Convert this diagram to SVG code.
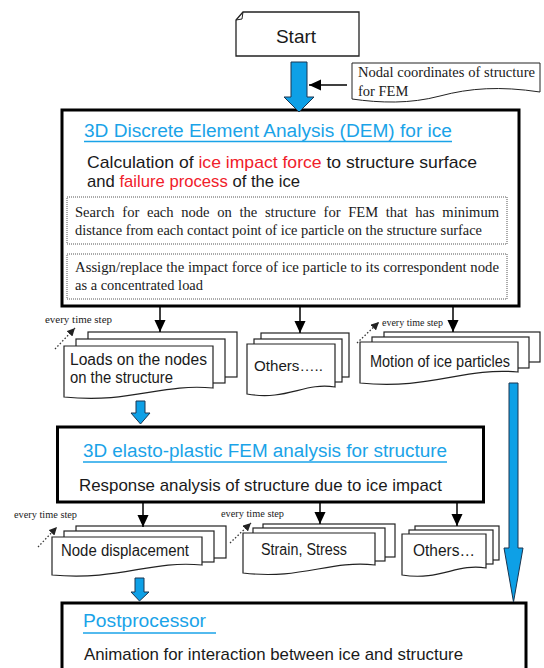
<svg xmlns="http://www.w3.org/2000/svg" width="544" height="668" viewBox="0 0 544 668">
<style>
.sans{font-family:"Liberation Sans",Arial,sans-serif;fill:#1a1a1a}
.serif{font-family:"Liberation Serif","Times New Roman",serif;fill:#1a1a1a}
.blue{fill:#1aa3e8}
.red{fill:#f0202a}
.ul{stroke:#1aa3e8;stroke-width:1.5}
.big{fill:#fff;stroke:#000;stroke-width:3}
.sheet{fill:#fff;stroke:#222;stroke-width:1.2}
.dot{fill:none;stroke:#555;stroke-width:1;stroke-dasharray:1 1}
.conn{stroke:#000;stroke-width:1.5;fill:none}
.tstep{stroke:#333;stroke-width:1.3;stroke-dasharray:1.5 2;fill:none}
.barrow{fill:#0ea0e6;stroke:#1a3550;stroke-width:1}
</style>
<defs>
<marker id="ah" markerUnits="userSpaceOnUse" markerWidth="12" markerHeight="13" viewBox="0 0 13 12" refX="13" refY="6" orient="auto"><path d="M0,0 L13,6 L0,12 Z" fill="#000"/></marker>
<marker id="sh" markerUnits="userSpaceOnUse" markerWidth="8" markerHeight="8" viewBox="0 0 8 8" refX="8" refY="4" orient="auto"><path d="M0,0 L8,4 L0,8 Z" fill="#222"/></marker>
</defs>

<g id="start">
<path d="M243,12 H359 V56 H236 V20 Z" fill="#fff" stroke="#222" stroke-width="1.3"/>
<path d="M236,20 L242,19 L243,12" fill="none" stroke="#222" stroke-width="1"/>
<text class="sans" x="296" y="43" font-size="19" text-anchor="middle">Start</text>
</g>

<g id="note-nodal">
<path d="M352,63 H540 V92 C500,86 470,88 440,96 C410,104 380,103 352,99 Z" fill="#fff" stroke="#222" stroke-width="1"/>
<text class="serif" x="358" y="77" font-size="14.5" textLength="177" lengthAdjust="spacingAndGlyphs">Nodal coordinates of structure</text>
<text class="serif" x="358" y="96" font-size="14.5">for FEM</text>
</g>

<g id="dem">
<rect class="big" x="62" y="110" width="457" height="196"/>
<text class="sans blue" x="84" y="137" font-size="18" textLength="368" lengthAdjust="spacingAndGlyphs">3D Discrete Element Analysis (DEM) for ice</text>
<line class="ul" x1="84" y1="141.5" x2="452" y2="141.5"/>
<text class="sans" x="87" y="168" font-size="17" textLength="390" lengthAdjust="spacingAndGlyphs">Calculation of <tspan class="red">ice impact force</tspan> to structure surface</text>
<text class="sans" x="87" y="187" font-size="17" textLength="213" lengthAdjust="spacingAndGlyphs">and <tspan class="red">failure process</tspan> of the ice</text>
<rect class="dot" x="67" y="197" width="440" height="47"/>
<text class="serif" x="75" y="217" font-size="14.5" word-spacing="4" textLength="424" lengthAdjust="spacingAndGlyphs">Search for each node on the structure for FEM that has minimum</text>
<text class="serif" x="75" y="235" font-size="14.5" textLength="407" lengthAdjust="spacingAndGlyphs">distance from each contact point of ice particle on the structure surface</text>
<rect class="dot" x="67" y="254" width="440" height="45"/>
<text class="serif" x="75" y="272" font-size="14.5" textLength="424" lengthAdjust="spacingAndGlyphs">Assign/replace the impact force of ice particle to its correspondent node</text>
<text class="serif" x="75" y="290" font-size="14.5" textLength="128" lengthAdjust="spacingAndGlyphs">as a concentrated load</text>
</g>

<g id="doc-loads">
<rect class="sheet" x="88" y="332" width="149" height="45"/>
<rect class="sheet" x="76" y="339" width="149" height="44"/>
<path class="sheet" d="M64,346 H213 V388 C161,383 131,404 64,397 Z"/>
<text class="sans" x="70" y="365" font-size="16" textLength="137" lengthAdjust="spacingAndGlyphs">Loads on the nodes</text>
<text class="sans" x="70" y="383" font-size="16" textLength="103" lengthAdjust="spacingAndGlyphs">on the structure</text>
</g>

<g id="doc-others1">
<rect class="sheet" x="261" y="333" width="88" height="44"/>
<rect class="sheet" x="254" y="339" width="88" height="43"/>
<path class="sheet" d="M247,344 H335 V387 C304,382 287,401 247,394 Z"/>
<text class="sans" x="254" y="371" font-size="15.5" textLength="69" lengthAdjust="spacingAndGlyphs">Others…..</text>
</g>

<g id="doc-motion">
<rect class="sheet" x="384" y="332" width="156" height="30"/>
<rect class="sheet" x="372" y="337" width="157" height="31"/>
<path class="sheet" d="M360,342 H518 V372 C463,367 431,390 360,383 Z"/>
<text class="sans" x="370" y="367" font-size="16" textLength="140" lengthAdjust="spacingAndGlyphs">Motion of ice particles</text>
</g>

<g id="fem">
<rect class="big" x="57.5" y="427" width="426" height="75"/>
<text class="sans blue" x="83" y="457" font-size="18" textLength="364" lengthAdjust="spacingAndGlyphs">3D elasto-plastic FEM analysis for structure</text>
<line class="ul" x1="83" y1="462" x2="447" y2="462"/>
<text class="sans" x="79" y="491" font-size="17" textLength="363" lengthAdjust="spacingAndGlyphs">Response analysis of structure due to ice impact</text>
</g>

<g id="doc-nodedisp">
<rect class="sheet" x="76" y="526" width="150" height="32"/>
<rect class="sheet" x="64" y="531" width="150" height="31"/>
<path class="sheet" d="M52,537 H202 V565 C150,560 120,581 52,575 Z"/>
<text class="sans" x="61" y="556" font-size="16" textLength="128" lengthAdjust="spacingAndGlyphs">Node displacement</text>
</g>

<g id="doc-strain">
<rect class="sheet" x="263" y="524" width="132" height="33"/>
<rect class="sheet" x="253" y="528" width="132" height="33"/>
<path class="sheet" d="M243,533 H375 V565 C329,560 302,580 243,573 Z"/>
<text class="sans" x="261" y="555" font-size="16" textLength="86" lengthAdjust="spacingAndGlyphs">Strain, Stress</text>
</g>

<g id="doc-others2">
<rect class="sheet" x="415" y="526" width="84" height="34"/>
<rect class="sheet" x="409" y="530" width="84" height="34"/>
<path class="sheet" d="M402,534 H486 V568 C457,563 440,581 402,575 Z"/>
<text class="sans" x="413" y="556" font-size="16" textLength="62" lengthAdjust="spacingAndGlyphs">Others…</text>
</g>

<g id="post">
<rect class="big" x="62" y="603" width="464" height="90"/>
<text class="sans blue" x="83" y="627" font-size="18" textLength="123" lengthAdjust="spacingAndGlyphs">Postprocessor</text>
<line class="ul" x1="83" y1="633" x2="216" y2="633"/>
<text class="sans" x="84" y="660" font-size="17" textLength="379" lengthAdjust="spacingAndGlyphs">Animation for interaction between ice and structure</text>
</g>

<g id="labels">
<text class="serif" x="45" y="323" font-size="10" textLength="67" lengthAdjust="spacingAndGlyphs">every time step</text>
<text class="serif" x="382" y="326" font-size="10" textLength="61" lengthAdjust="spacingAndGlyphs">every time step</text>
<text class="serif" x="14" y="518" font-size="10" textLength="63" lengthAdjust="spacingAndGlyphs">every time step</text>
<text class="serif" x="221" y="517" font-size="10" textLength="63" lengthAdjust="spacingAndGlyphs">every time step</text>
</g>

<g id="connectors">
<path class="barrow" d="M291,62 H307 V97 H314 L299,112 L284,97 H291 Z"/>
<line class="conn" x1="347" y1="85" x2="309" y2="85" marker-end="url(#ah)"/>
<line class="conn" x1="160" y1="306" x2="160" y2="332" marker-end="url(#ah)"/>
<line class="conn" x1="300" y1="306" x2="300" y2="333" marker-end="url(#ah)"/>
<line class="conn" x1="453" y1="306" x2="453" y2="332" marker-end="url(#ah)"/>
<path class="barrow" d="M136,401 H145 V413 H150 L140.5,424 L131,413 H136 Z"/>
<path class="barrow" d="M509,383 H518 V548 H523 L513.5,602 L504,548 H509 Z"/>
<line class="conn" x1="143" y1="502" x2="143" y2="527" marker-end="url(#ah)"/>
<line class="conn" x1="320" y1="502" x2="320" y2="524" marker-end="url(#ah)"/>
<line class="conn" x1="457" y1="502" x2="457" y2="526" marker-end="url(#ah)"/>
<path class="barrow" d="M135,578 H144 V592 H149 L139.5,601 L131,592 H135 Z"/>
<line class="tstep" x1="55" y1="349" x2="75" y2="328" marker-end="url(#sh)"/>
<line class="tstep" x1="357" y1="343" x2="379" y2="322" marker-end="url(#sh)"/>
<line class="tstep" x1="38" y1="547" x2="57" y2="527" marker-end="url(#sh)"/>
<line class="tstep" x1="230" y1="543" x2="251" y2="523" marker-end="url(#sh)"/>
</g>
</svg>
